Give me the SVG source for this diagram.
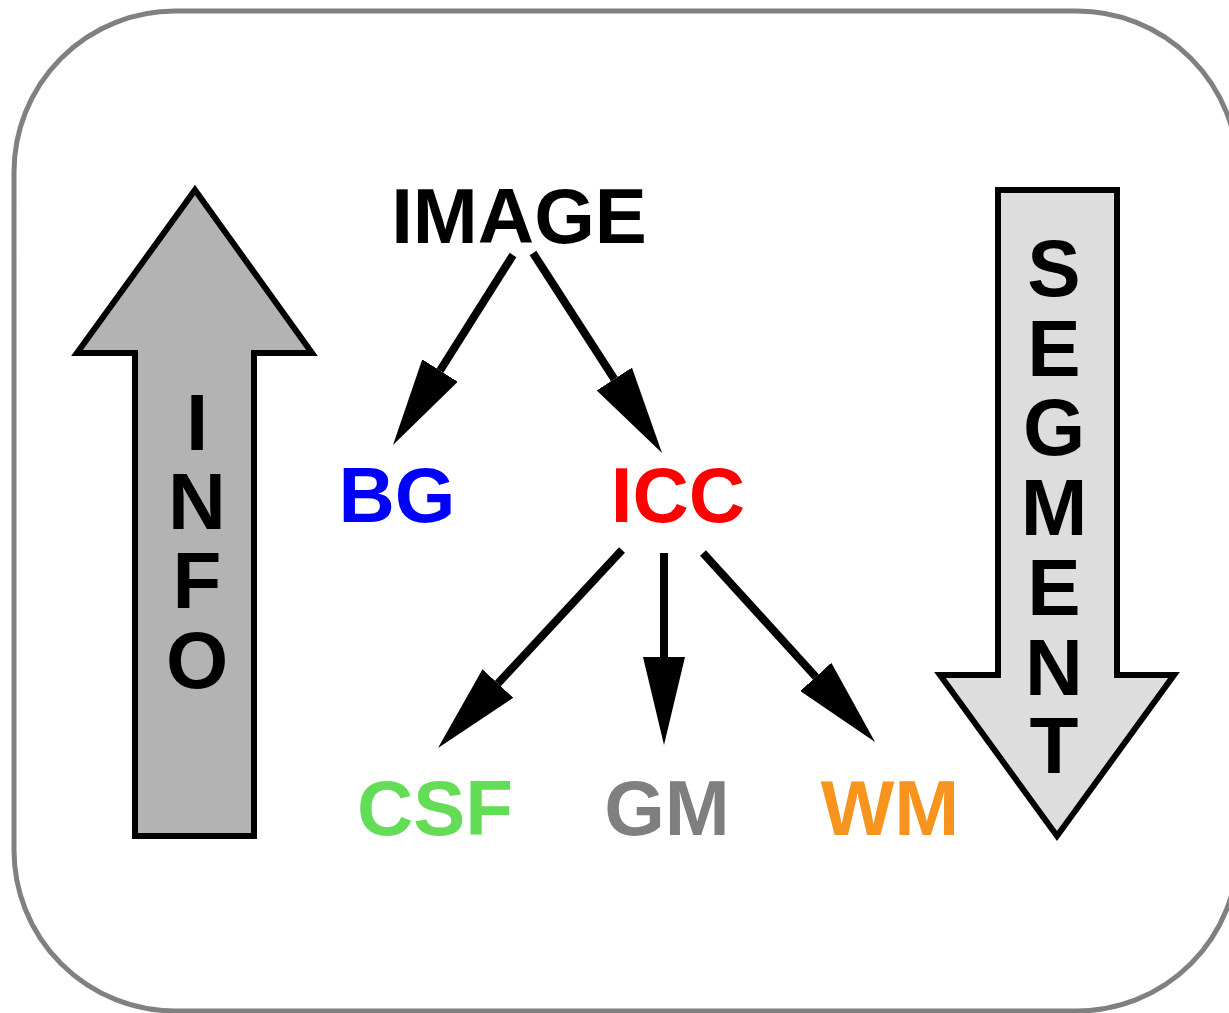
<svg xmlns="http://www.w3.org/2000/svg" width="1229" height="1013" viewBox="0 0 1229 1013">
  <style>
    .lbl { font-family: "Liberation Sans", Arial, sans-serif; font-weight: bold; font-size: 78px; text-anchor: middle; }
    .vl { font-family: "Liberation Sans", Arial, sans-serif; font-weight: bold; font-size: 80px; text-anchor: middle; fill: #000; }
    .big { stroke: #000; stroke-width: 6; stroke-linejoin: miter; }
    .conn { stroke: #000; stroke-width: 8; fill: none; marker-end: url(#head); }
  </style>
  <defs>
    <marker id="head" viewBox="0 0 88 42" refX="0" refY="21" markerWidth="88" markerHeight="42" markerUnits="userSpaceOnUse" orient="auto">
      <path d="M0,0 L88,21 L0,42 Z" fill="#000"/>
    </marker>
  </defs>
  <rect id="frame" x="14" y="11" width="1224" height="1000" rx="161" ry="161" fill="#fff" stroke="#808080" stroke-width="5"/>

  <g id="info">
    <polygon class="big" fill="#b3b3b3" points="195,190 312,353 254,353 254,836 135,836 135,353 77,353"/>
    <text class="vl" x="197" y="450">I</text>
    <text class="vl" x="197" y="529">N</text>
    <text class="vl" x="197" y="608">F</text>
    <text class="vl" x="197" y="688">O</text>
  </g>

  <g id="segment">
    <polygon class="big" fill="#dddddd" points="998,190 1117,190 1117,675 1174,675 1057,836 940,675 998,675"/>
    <text class="vl" x="1054" y="296">S</text>
    <text class="vl" x="1054" y="376">E</text>
    <text class="vl" x="1054" y="455">G</text>
    <text class="vl" x="1054" y="535">M</text>
    <text class="vl" x="1054" y="615">E</text>
    <text class="vl" x="1054" y="695">N</text>
    <text class="vl" x="1054" y="773">T</text>
  </g>

  <g id="image"><text class="lbl" x="519" y="243" fill="#000">IMAGE</text></g>
  <g id="bg"><text class="lbl" x="397" y="522" fill="#0000ff">BG</text></g>
  <g id="icc"><text class="lbl" x="678" y="522" fill="#ff0000">ICC</text></g>
  <g id="csf"><text class="lbl" x="435" y="835" fill="#62dd55">CSF</text></g>
  <g id="gm"><text class="lbl" x="667" y="835" fill="#7f7f7f">GM</text></g>
  <g id="wm"><text class="lbl" x="890" y="835" fill="#f7941d">WM</text></g>

  <g id="connectors">
    <line class="conn" x1="513" y1="255" x2="440" y2="370.6"/>
    <line class="conn" x1="533" y1="253" x2="614.3" y2="379"/>
    <line class="conn" x1="622" y1="550" x2="497.9" y2="683.5"/>
    <line class="conn" x1="664" y1="553" x2="664" y2="657"/>
    <line class="conn" x1="703" y1="553" x2="815.8" y2="676.9"/>
  </g>
</svg>
